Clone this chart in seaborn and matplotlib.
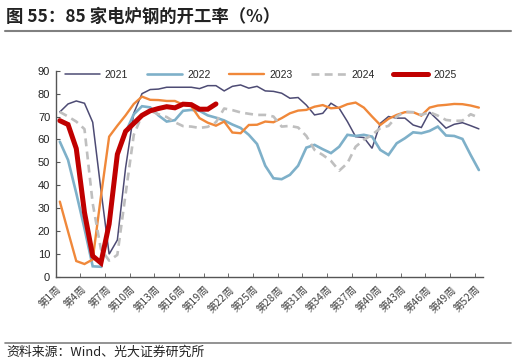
import numpy as np
import pandas as pd
import matplotlib
matplotlib.use("Agg")
import matplotlib.pyplot as plt
import seaborn as sns

# ====================== 数据 ======================
weeks = list(range(1, 53))
week_labels = [f"第{w}周" for w in range(1, 53, 3)]

y2021 = [72, 75.5, 76.8, 75.8, 67.5, 38, 9.8, 16, 47.5, 71.5,
         80, 81.8, 82, 82.8, 82.8, 82.8, 82.8, 82.2, 83.5, 83.5,
         81.2, 83.2, 83.8, 82.4, 83.2, 81.2, 81, 80.2, 78, 78.3,
         75, 70.7, 71.4, 75.8, 73.6, 67.8, 61.2, 60.8, 56.1, 67,
         70, 69.3, 69.3, 66.3, 65.2, 71.9, 68.5, 64.9, 66.6, 67.3,
         66, 64.6]
y2022 = [59, 51, 36.5, 21, 4.5, 4.3, 25, 53, 63, 71,
         74.5, 74, 70.5, 67.8, 68.4, 72.5, 72.9, 72.5, 70.5, 69.5,
         68.3, 66.5, 65, 62, 58, 48.5, 43, 42.6, 44.5, 48.5,
         56.4, 57.6, 55.7, 54, 56.8, 62, 61.5, 62, 61.2, 55.4,
         53.2, 58.3, 60.5, 63.1, 62.7, 63.7, 65.6, 61.7, 61.5, 60.2,
         53.2, 46.6]
y2023 = [32.8, 19.7, 6.8, 5.5, 7.5, 35, 61.2, 66, 70.5, 75.5,
         78.7, 77.3, 77.2, 76.8, 76.8, 75.2, 74.5, 69.3, 67.3, 66,
         67.8, 63, 62.7, 66.3, 66.4, 67.8, 67.5, 69.3, 71.4, 72.6,
         72.9, 74.3, 75, 73.6, 73.9, 75.4, 76.1, 73.9, 70, 66.3,
         69, 70.7, 71.9, 71.9, 70.4, 73.9, 74.8, 75.1, 75.5, 75.4,
         74.8, 73.9]
y2024 = [72, 70, 67.8, 64.5, 32, 12, 7, 9.5, 36, 62,
         70.5, 72.5, 71, 69.8, 67.5, 65.8, 65.6, 65, 65.5, 67.5,
         73.5, 72.8, 71.8, 71.2, 70.7, 70.7, 70, 65.6, 65.9, 65.2,
         61.5, 55.4, 53.2, 50.6, 46.3, 49.6, 56.8, 59.8, 62, 64.9,
         65.9, 70, 72.1, 71.9, 70.7, 71.9, 70.4, 68.5, 68.1, 68.2,
         71, 69.5]
y2025 = [68.2, 66.5, 56, 28, 9, 6, 23, 53.5, 63.5, 67,
         70.5, 72.5, 73.5, 74.3, 73.8, 75.4, 75.2, 73.2, 73.2, 75.5]

# ====================== 绘图 ======================
sns.set_style("ticks")
plt.rcParams['font.family'] = ['Liberation Sans', 'Noto Sans CJK SC', 'DejaVu Sans']
plt.rcParams['axes.unicode_minus'] = False

fig = plt.figure(figsize=(5.16, 3.63), dpi=100)
ax = fig.add_axes([0.108, 0.238, 0.828, 0.567])

series = [
    ("2021", y2021, "#4D4B74", 1.1, "-"),
    ("2022", y2022, "#7EB0C9", 1.9, "-"),
    ("2023", y2023, "#F0883A", 1.7, "-"),
    ("2024", y2024, "#BFBFBF", 1.9, (0, (3, 2))),
    ("2025", y2025, "#C00000", 3.6, "-"),
]
for name, vals, col, lw, ls in series:
    df = pd.DataFrame({"week": weeks[:len(vals)], "rate": vals})
    sns.lineplot(data=df, x="week", y="rate", ax=ax, color=col, linewidth=lw,
                 linestyle=ls, label=name, solid_joinstyle="miter")

ax.set_xlim(0.5, 52.5)
ax.set_ylim(0, 90)
ax.set_yticks(range(0, 91, 10))
ax.set_xticks(range(1, 53, 3))
ax.set_xticklabels(week_labels, rotation=45, ha='right', va='center',
                   rotation_mode='anchor', fontsize=7.5, color='#444444',
                   family=['Noto Sans CJK SC', 'DejaVu Sans'])
ax.set_xticks([0.5 + 3 * k for k in range(18)], minor=True)
ax.tick_params(axis='x', which='major', length=0, pad=8)
ax.tick_params(axis='x', which='minor', direction='in', length=3, color='#555555')
ax.tick_params(axis='y', direction='in', length=3, labelsize=8, color='#555555',
               labelcolor='#222222', pad=4)
ax.set_xlabel("")
ax.set_ylabel("")
sns.despine(ax=ax)
for s in ['left', 'bottom']:
    ax.spines[s].set_color('#555555')
    ax.spines[s].set_linewidth(1.0)

ax.legend(loc='upper center', bbox_to_anchor=(0.48, 1.05), ncol=5, frameon=False,
          fontsize=7.5, handlelength=3.35, columnspacing=1.8, handletextpad=0.5)

# 标题与来源
fig.text(0.012, 0.955, "图 55：85 家电炉钢的开工率（%）", fontsize=12.5, fontweight='bold',
         family=['Noto Sans CJK SC', 'DejaVu Sans'], va='center', ha='left', color='#222222')
fig.add_artist(plt.Line2D([0.01, 0.99], [0.915, 0.915], color='#808080', linewidth=1.5))
fig.add_artist(plt.Line2D([0.01, 0.99], [0.056, 0.056], color='#808080', linewidth=1.2))
fig.text(0.012, 0.03, "资料来源：Wind、光大证券研究所", fontsize=9.3,
         family=['Noto Sans CJK SC', 'DejaVu Sans'], va='center', ha='left', color='#222222')

fig.savefig("out.png", dpi=100)
